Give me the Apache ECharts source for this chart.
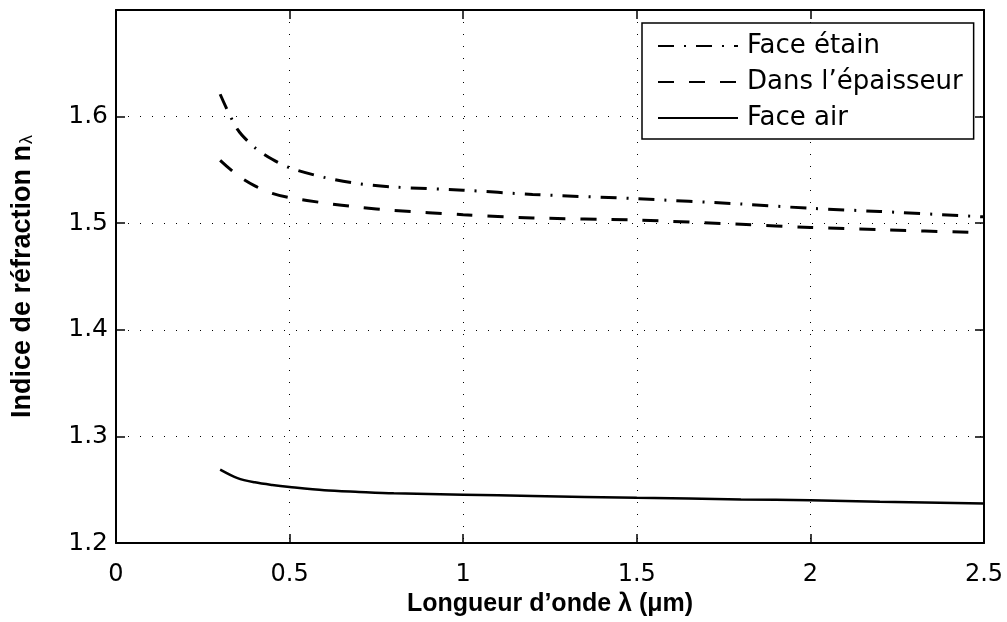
<!DOCTYPE html>
<html><head><meta charset="utf-8">
<script src="https://cdn.jsdelivr.net/npm/echarts@6/dist/echarts.min.js"></script>
<style>html,body{margin:0;padding:0;background:#fff}#c{width:1007px;height:622px}</style>
</head><body><div id="c"></div>
<script>
var wavelengths = [0.3,0.35,0.4,0.45,0.5,0.6,0.7,0.8,1.0,1.2,1.5,1.8,2.0,2.2,2.5];
var faceEtain   = [1.621,1.588,1.571,1.560,1.552,1.543,1.537,1.534,1.531,1.527,1.523,1.518,1.514,1.511,1.506];
var epaisseur   = [1.559,1.545,1.535,1.528,1.524,1.519,1.515,1.512,1.508,1.505,1.503,1.499,1.496,1.494,1.491];
var faceAir     = [1.269,1.261,1.257,1.2545,1.2526,1.2495,1.248,1.2467,1.2454,1.2442,1.2425,1.241,1.2402,1.2388,1.2371];
var seriesNames = ['Face étain','Dans l’épaisseur','Face air'];
var xTicks = [0,0.5,1,1.5,2,2.5];
var yTicks = [1.2,1.3,1.4,1.5,1.6];

function pairs(ys){ return wavelengths.map(function(x,i){ return [x, ys[i]]; }); }
var FONT = '"Liberation Sans", Arial, sans-serif';
var TFONT = '"DejaVu Sans", sans-serif';
var chart = echarts.init(document.getElementById('c'));
var gridSplit = {show:true, lineStyle:{color:'#000', width:1, type:[1,11]}};
var edgeAxisLine = {show:true, onZero:false, lineStyle:{color:'#000', width:2}};
var inTick = {show:true, inside:true, length:9, lineStyle:{color:'#000', width:1.5}};
chart.setOption({
  animation:false,
  textStyle:{fontFamily:FONT},
  grid:{left:116, right:23, top:10, bottom:74, containLabel:false},
  legend:{
    orient:'vertical', left:642, top:23,
    padding:[10,11,8,15], itemGap:10, itemWidth:80, itemHeight:22,
    backgroundColor:'#fff', borderColor:'#000', borderWidth:1.5, borderRadius:0,
    itemStyle:{opacity:0},
    textStyle:{fontSize:26, color:'#000', fontFamily:TFONT, padding:[0,0,0,4]},
    data:seriesNames
  },
  xAxis:[{
    type:'value', min:0, max:2.5, interval:0.5, position:'bottom',
    axisLine:edgeAxisLine, axisTick:inTick,
    axisLabel:{fontSize:24, color:'#000', margin:20, fontFamily:TFONT,
      formatter:function(v){ return xTicks.indexOf(+v.toFixed(2))>=0 ? String(+v.toFixed(2)) : ''; }},
    splitLine:gridSplit,
    name:'Longueur d’onde λ (μm)', nameLocation:'middle', nameGap:35,
    nameTextStyle:{fontSize:25, fontWeight:'bold', color:'#000', fontFamily:FONT}
  },{
    type:'value', min:0, max:2.5, interval:0.5, position:'top',
    axisLine:edgeAxisLine, axisTick:inTick,
    axisLabel:{show:false}, splitLine:{show:false}
  }],
  yAxis:[{
    type:'value', min:1.2, max:1.7, interval:0.1, position:'left',
    axisLine:edgeAxisLine, axisTick:inTick,
    axisLabel:{fontSize:25, color:'#000', margin:8, fontFamily:TFONT,
      formatter:function(v){ var r=+v.toFixed(2); return yTicks.indexOf(r)>=0 ? r.toFixed(1) : ''; }},
    splitLine:gridSplit,
    name:'{a|Indice de réfraction n}{s|λ}', nameLocation:'middle', nameGap:80,
    nameTextStyle:{color:'#000', fontFamily:FONT,
      rich:{
        a:{fontSize:27, fontWeight:'bold', color:'#000', fontFamily:FONT, lineHeight:27, verticalAlign:'top'},
        s:{fontSize:18, color:'#000', fontFamily:FONT, lineHeight:18, padding:[9,0,0,1], verticalAlign:'bottom'}
      }}
  },{
    type:'value', min:1.2, max:1.7, interval:0.1, position:'right',
    axisLine:edgeAxisLine, axisTick:inTick,
    axisLabel:{show:false}, splitLine:{show:false}
  }],
  series:[
    {name:seriesNames[0], type:'line', data:pairs(faceEtain), showSymbol:false, symbol:'none', smooth:0.3,
     lineStyle:{color:'#000', width:3, type:[16,10,2,10]}, itemStyle:{color:'#000'}},
    {name:seriesNames[1], type:'line', data:pairs(epaisseur), showSymbol:false, symbol:'none', smooth:0.3,
     lineStyle:{color:'#000', width:3, type:[16,15]}, itemStyle:{color:'#000'}},
    {name:seriesNames[2], type:'line', data:pairs(faceAir), showSymbol:false, symbol:'none', smooth:0.3,
     lineStyle:{color:'#000', width:2.5, type:'solid'}, itemStyle:{color:'#000'}}
  ]
});
</script></body></html>
